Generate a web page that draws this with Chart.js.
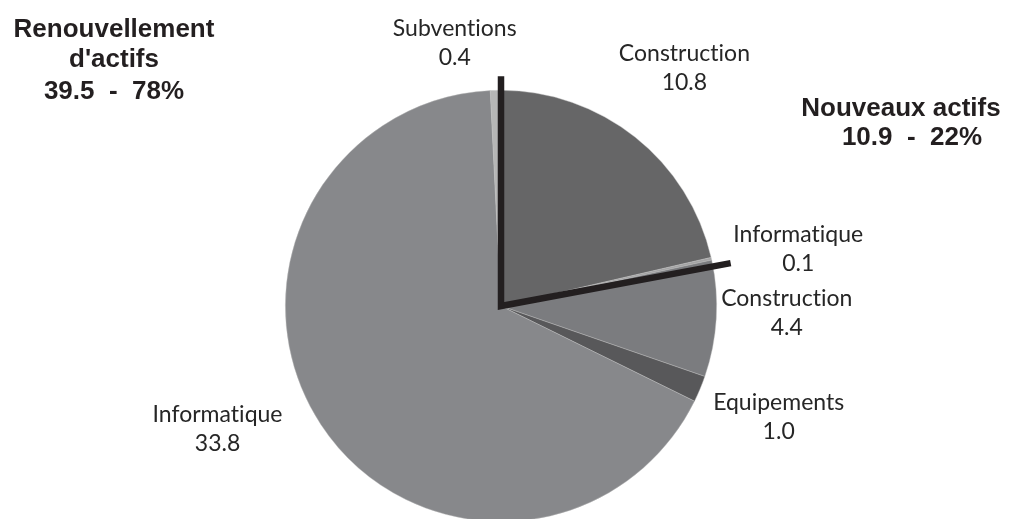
<!DOCTYPE html>
<html lang="fr">
<head>
<meta charset="utf-8">
<title>Investissements</title>
<script src="https://cdn.jsdelivr.net/npm/chart.js@4.4.1/dist/chart.umd.min.js"></script>
<style>
  html, body { margin: 0; padding: 0; background: #fff; overflow: hidden; }
  #wrap { position: relative; width: 1020px; height: 530px; }
</style>
</head>
<body>
<div id="wrap"><canvas id="chart"></canvas></div>
<script>
// slices, clockwise from 12 o'clock
const categories = ['Construction', 'Informatique', 'Construction', 'Equipements', 'Informatique', 'Subventions']
const values = [10.8, 0.1, 4.4, 1.0, 33.8, 0.4]
const sliceColors = ['#666667', '#a4a4a5', '#7b7c7f', '#58585a', '#87888b', '#b6b6b6']

// group headings
const groupTitles = [
  ['Renouvellement', "d'actifs", '39.5  -  78%'],
  ['Nouveaux actifs', '10.9  -  22%'],
]

document.addEventListener('DOMContentLoaded', () => {
  const canvas = document.getElementById('chart')

  // label placement: angle shift (deg) from slice middle, distance as share of radius
  const labelAngleShift = [-1.7, 0.5, -3.4, -2.1, 11.1, -8.3]
  const labelRadius = [1.42, 1.41, 1.325, 1.375, 1.42, 1.27]

  const sliceLabels = {
    id: 'sliceLabels',
    afterDatasetsDraw(chart) {
      const { ctx } = chart
      const arcs = chart.getDatasetMeta(0).data
      const first = arcs[0]
      const cx = first.x
      const cy = first.y
      const R = first.outerRadius

      // thick separator around the "Nouveaux actifs" slices
      const a0 = arcs[0].startAngle
      const a1 = arcs[1].endAngle + 0.03
      ctx.save()
      ctx.strokeStyle = '#231f20'
      ctx.lineWidth = 6.5
      ctx.lineJoin = 'miter'
      ctx.beginPath()
      ctx.moveTo(cx + Math.cos(a0) * (R + 14), cy + Math.sin(a0) * (R + 14))
      ctx.lineTo(cx, cy)
      ctx.lineTo(cx + Math.cos(a1) * (R + 18), cy + Math.sin(a1) * (R + 18))
      ctx.stroke()
      ctx.restore()

      // category + value labels
      ctx.save()
      ctx.fillStyle = '#262626'
      ctx.font = '23px Lato'
      ctx.letterSpacing = '0.01px'
      ctx.textAlign = 'center'
      ctx.textBaseline = 'alphabetic'
      arcs.forEach((arc, i) => {
        const mid = (arc.startAngle + arc.endAngle) / 2 + labelAngleShift[i] * Math.PI / 180
        const r = R * labelRadius[i]
        const x = cx + Math.cos(mid) * r
        const y = cy + Math.sin(mid) * r
        ctx.fillText(categories[i], x, y)
        ctx.fillText(values[i].toFixed(1), x, y + 29)
      })
      ctx.restore()

      // group headings
      ctx.save()
      ctx.fillStyle = '#231f20'
      ctx.font = 'bold 26px "Liberation Sans", Arial'
      ctx.textAlign = 'center'
      const leftLines = [37, 67, 99]
      groupTitles[0].forEach((line, i) => ctx.fillText(line, 114, leftLines[i]))
      ctx.fillText(groupTitles[1][0], 901, 116)
      ctx.fillText(groupTitles[1][1], 912, 145)
      ctx.restore()
    }
  }

  new Chart(canvas, {
    type: 'pie',
    data: {
      labels: categories,
      datasets: [{
        data: values,
        backgroundColor: sliceColors,
        borderColor: 'rgba(190,190,190,0.6)',
        borderWidth: 0.7,
      }]
    },
    options: {
      responsive: true,
      maintainAspectRatio: false,
      animation: false,
      layout: { padding: { top: 90, bottom: 8, left: 0, right: 18 } },
      plugins: {
        legend: { display: false },
        tooltip: { enabled: false },
      }
    },
    plugins: [sliceLabels]
  })
})
</script>
</body>
</html>
